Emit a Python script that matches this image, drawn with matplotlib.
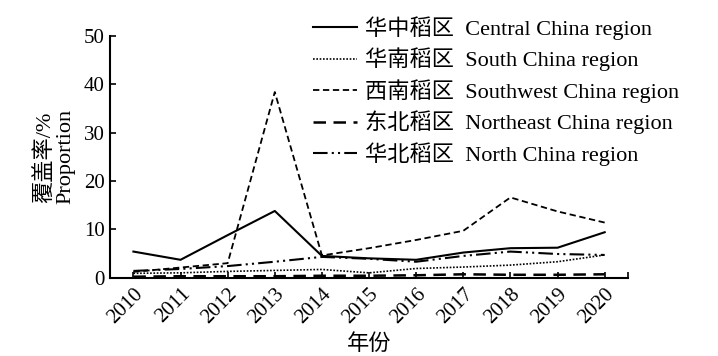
import matplotlib
matplotlib.use("Agg")
import matplotlib.pyplot as plt

plt.rcParams['font.family'] = ['Liberation Serif', 'Noto Sans CJK SC']

years = [2010, 2011, 2012, 2013, 2014, 2015, 2016, 2017, 2018, 2019, 2020]

central = [5.4, 3.7, 8.8, 13.8, 4.5, 4.0, 3.7, 5.2, 6.1, 6.2, 9.4]
south = [0.9, 1.0, 1.3, 1.5, 1.7, 1.0, 1.9, 2.2, 2.6, 3.3, 4.7]
southwest = [1.2, 2.1, 3.0, 38.4, 4.6, 6.1, 7.8, 9.7, 16.6, 13.7, 11.4]
northeast = [0.2, 0.3, 0.3, 0.3, 0.4, 0.4, 0.5, 0.7, 0.6, 0.6, 0.7]
north = [1.4, 1.8, 2.4, 3.3, 4.3, 3.9, 3.3, 4.5, 5.4, 4.9, 4.7]

labels = ["华中稻区  Central China region",
          "华南稻区  South China region",
          "西南稻区  Southwest China region",
          "东北稻区  Northeast China region",
          "华北稻区  North China region"]

fig = plt.figure(figsize=(7.18, 3.56), dpi=100)
ax = fig.add_axes([0.153, 0.22, 0.722, 0.679])

ax.plot(years, central, color='black', lw=1.5, ls='-', label=labels[0])
ax.plot(years, south, color='black', lw=1.2, ls=(0, (1, 1)), label=labels[1])
ax.plot(years, southwest, color='black', lw=1.3, ls=(0, (3.5, 2)), label=labels[2])
ax.plot(years, northeast, color='black', lw=1.8, ls=(0, (5, 3)), label=labels[3])
ax.plot(years, north, color='black', lw=1.5, ls=(0, (7, 2, 1, 2, 1, 2)), label=labels[4])

ax.set_xlim(2009.5, 2020.5)
ax.set_ylim(0, 50)
ax.set_xticks(years)
ax.set_xticks([2020.5], minor=True)
ax.set_xticklabels([str(y) for y in years], rotation=45, ha='right',
                   rotation_mode='anchor', fontsize=15)
ax.set_yticks([0, 10, 20, 30, 40, 50])
ax.tick_params(axis='y', direction='in', labelsize=15, width=1.2, length=4)
ax.tick_params(axis='x', which='both', direction='in', width=1.2, length=4, pad=5)

for s in ['top', 'right']:
    ax.spines[s].set_visible(False)
for s in ['left', 'bottom']:
    ax.spines[s].set_linewidth(1.5)

ax.set_xlabel("年份", fontsize=16, labelpad=5)
ax.set_ylabel("覆盖率/%\nProportion", fontsize=16, labelpad=6, linespacing=1.15)

fig.legend(loc='upper left', bbox_to_anchor=(0.436, 0.955), frameon=False,
           fontsize=16, handlelength=2.0, handletextpad=0.36, labelspacing=0.35,
           borderaxespad=0, borderpad=0)

fig.savefig("out.png", dpi=100)
